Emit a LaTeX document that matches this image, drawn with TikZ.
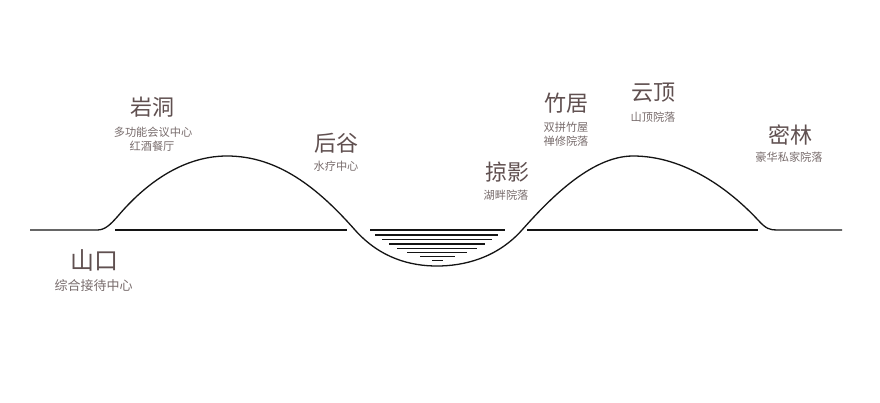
\documentclass[tikz,border=0pt]{standalone}
\usepackage{fontspec}
\newfontfamily\cjk{Noto Sans CJK SC}
\definecolor{titlecol}{RGB}{96,80,80}
\definecolor{subcol}{RGB}{120,108,108}
\definecolor{linecol}{RGB}{20,20,20}
\begin{document}
\begin{tikzpicture}[x=1pt,y=-1pt,
  title/.style={font=\cjk\fontsize{22}{22}\selectfont, text=titlecol, inner sep=0pt, anchor=center},
  sub/.style={font=\cjk\fontsize{11.2}{14}\selectfont, text=subcol, inner sep=0pt, anchor=center, align=center},
  terrain/.style={draw=linecol, line width=1.3pt},
  water/.style={draw=linecol, line width=1.3pt}]
\fill[white] (0,0) rectangle (880,402);
\useasboundingbox (0,0) rectangle (880,402);
% terrain profile
\draw[terrain] (30,230) -- (97,230)
  .. controls (105,230) and (110,225) .. (118,216)
  .. controls (140,190) and (178,156) .. (227,156)
  .. controls (278,156) and (318,188) .. (355,230)
  .. controls (380,258) and (410,266) .. (437,266)
  .. controls (464,266) and (497,258) .. (522,230)
  .. controls (547,202) and (590,156) .. (633,156)
  .. controls (685,156) and (730,190) .. (758,220)
  .. controls (766,229) and (770,230) .. (777,230)
  -- (842,230);
% ground lines
\draw[terrain] (115,230) -- (347,230);
\draw[terrain] (527,230) -- (758,230);
% water
\draw[water] (370,230) -- (505,230);
\draw[water] (375,235) -- (498,235);
\draw[water] (382,239.3) -- (492,239.3);
\draw[water] (389,244) -- (485,244);
\draw[water] (397,248.3) -- (477,248.3);
\draw[water] (407,252.3) -- (467,252.3);
\draw[water] (420,256.3) -- (455,256.3);
\draw[water] (432,260.3) -- (443,260.3);
% labels
\node[title] (yd) at (152,107) {岩洞};
\node[sub] (yds1) at (153,132) {多功能会议中心};
\node[sub] (yds2) at (152,146.5) {红酒餐厅};
\node[title] (hg) at (336,143) {后谷};
\node[sub] (hgs) at (336,166) {水疗中心};
\node[title] (ly) at (507,172) {掠影};
\node[sub] (lys) at (506,195) {湖畔院落};
\node[title] (zj) at (566,103) {竹居};
\node[sub] (zjs1) at (566,127.5) {双拼竹屋};
\node[sub] (zjs2) at (566,141.5) {禅修院落};
\node[title] (ydg) at (653,93) {云顶};
\node[sub] (ydgs) at (653,117.5) {山顶院落};
\node[title] (ml) at (790,135) {密林};
\node[sub] (mls) at (789,157.5) {豪华私家院落};
\node[title, font=\cjk\fontsize{24}{24}\selectfont] (sk) at (94,260) {山口};
\node[sub, font=\cjk\fontsize{13}{15}\selectfont] (sks) at (93.5,285.5) {综合接待中心};
\end{tikzpicture}
\end{document}
